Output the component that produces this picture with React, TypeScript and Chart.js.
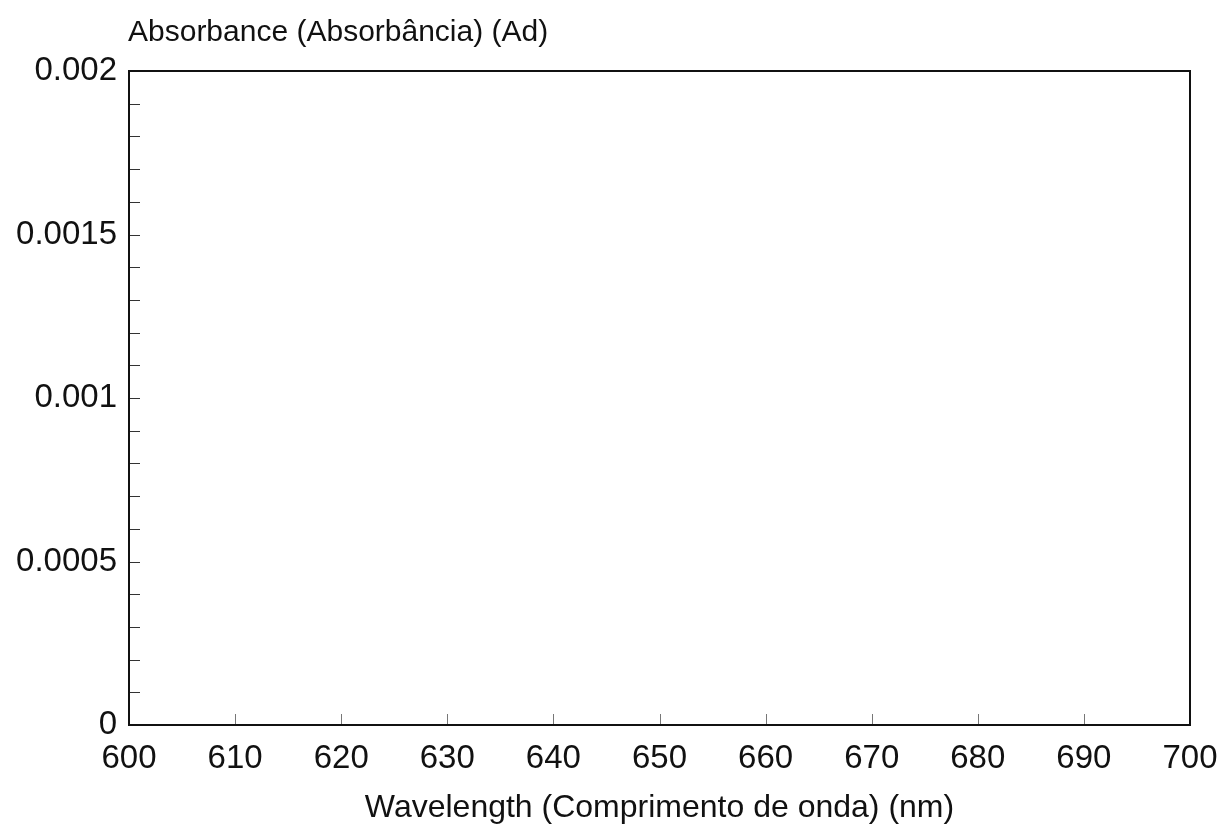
import React, { useEffect, useRef } from "react";
import { Chart, registerables } from "chart.js";

Chart.register(...registerables);

// Data (the reference plot contains no plotted series)
const wavelengths: number[] = [];
const absorbance: number[] = [];

// Axis definitions
const xMin = 600;
const xMax = 700;
const xStep = 10;
const xTickValues = [600, 610, 620, 630, 640, 650, 660, 670, 680, 690, 700];
const yMin = 0;
const yMax = 0.002;
const yStep = 0.0005;
const yMinorTickValues = [
  0, 0.0001, 0.0002, 0.0003, 0.0004, 0.0005, 0.0006, 0.0007, 0.0008, 0.0009, 0.001,
  0.0011, 0.0012, 0.0013, 0.0014, 0.0015, 0.0016, 0.0017, 0.0018, 0.0019, 0.002,
];
const yTitle = "Absorbance (Absorbância) (Ad)";
const xTitle = "Wavelength (Comprimento de onda) (nm)";

const FONT = '"Liberation Sans", Arial, Helvetica, sans-serif';
const INK = "#111111";

const framePlugin = {
  id: "frameAndInwardTicks",
  afterDraw(chart: any) {
    const { ctx, chartArea } = chart;
    const { left, right, top, bottom } = chartArea;
    const x = chart.scales.x;
    const y = chart.scales.y;
    ctx.save();
    // inward minor ticks on left axis
    ctx.beginPath();
    ctx.strokeStyle = "#333";
    ctx.lineWidth = 1;
    yMinorTickValues.forEach((v) => {
      const py = Math.round(y.getPixelForValue(v)) + 0.5;
      ctx.moveTo(left, py);
      ctx.lineTo(left + 11, py);
    });
    ctx.stroke();
    // inward ticks on bottom axis
    ctx.beginPath();
    ctx.strokeStyle = "#777";
    xTickValues.forEach((v) => {
      const px = Math.round(x.getPixelForValue(v)) + 0.5;
      ctx.moveTo(px, bottom);
      ctx.lineTo(px, bottom - 11);
    });
    ctx.stroke();
    // frame
    ctx.lineWidth = 2;
    ctx.strokeStyle = INK;
    ctx.strokeRect(left, top, right - left, bottom - top);
    // y axis title (horizontal, above plot)
    ctx.font = `30px ${FONT}`;
    ctx.fillStyle = INK;
    ctx.textAlign = "left";
    ctx.textBaseline = "alphabetic";
    ctx.fillText(yTitle, left - 1, 41);
    ctx.restore();
  },
};

export default function App() {
  const ref = useRef<HTMLCanvasElement | null>(null);

  useEffect(() => {
    if (!ref.current) return;
    const chart = new Chart(ref.current, {
      type: "scatter",
      data: {
        datasets: [
          {
            label: "Absorbance",
            data: wavelengths.map((w, i) => ({ x: w, y: absorbance[i] })),
            borderColor: INK,
            showLine: true,
            pointRadius: 0,
          },
        ],
      },
      options: {
        animation: false,
        responsive: false,
        layout: { padding: { left: 0, right: 31, top: 71, bottom: 4 } },
        plugins: {
          legend: { display: false },
          tooltip: { enabled: false },
          title: { display: false },
        },
        scales: {
          x: {
            type: "linear",
            min: xMin,
            max: xMax,
            grid: { display: false, tickLength: 0 },
            border: { display: false },
            afterFit: (s: any) => {
              s.paddingLeft = 0;
              s.paddingRight = 0;
            },
            ticks: {
              stepSize: xStep,
              color: INK,
              padding: 17,
              maxRotation: 0,
              autoSkip: false,
              font: { family: FONT, size: 33, lineHeight: 1.0 },
            },
            title: {
              display: true,
              text: xTitle,
              color: INK,
              font: { family: FONT, size: 32, lineHeight: 1.0 },
              padding: { top: 0, bottom: 0 },
            },
          },
          y: {
            type: "linear",
            min: yMin,
            max: yMax,
            grid: { display: false, tickLength: 0 },
            border: { display: false },
            afterFit: (s: any) => {
              s.width = 129;
            },
            ticks: {
              stepSize: yStep,
              color: INK,
              padding: 12,
              font: { family: FONT, size: 33 },
              callback: (v: any) => String(Number(Number(v).toFixed(4))),
            },
          },
        },
      },
      plugins: [framePlugin],
    });
    return () => chart.destroy();
  }, []);

  return (
    <canvas
      ref={ref}
      width={1221}
      height={828}
      style={{ position: "absolute", left: 0, top: 0, display: "block" }}
    />
  );
}
